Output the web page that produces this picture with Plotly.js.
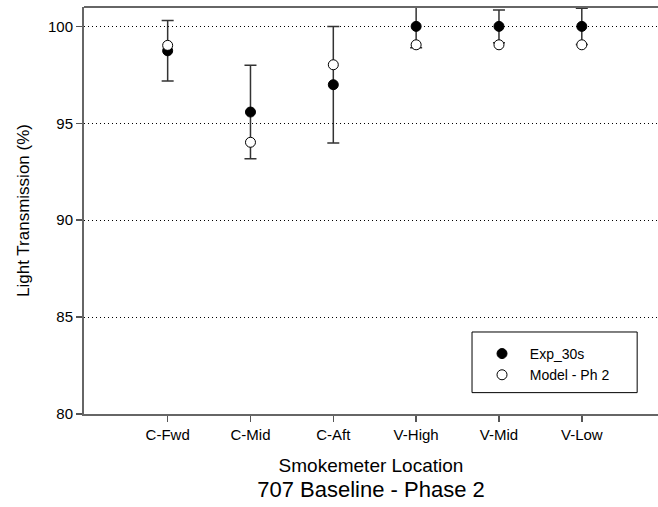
<!DOCTYPE html>
<html>
<head>
<meta charset="utf-8">
<script src="https://cdn.plot.ly/plotly-3.0.1.min.js"></script>
<style>html,body{margin:0;padding:0;background:#fff;}</style>
</head>
<body>
<div id="chart" style="width:658px;height:507px;"></div>
<script>
// Data
const locations = ["C-Fwd", "C-Mid", "C-Aft", "V-High", "V-Mid", "V-Low"];
const expValues = [98.74, 95.58, 96.99, 100.0, 100.0, 100.0];
const expErrors = [1.56, 2.41, 3.01, 1.1, 0.84, 0.94];
const modelValues = [99.02, 94.02, 98.02, 99.05, 99.05, 99.05];
const yTicks = [80, 85, 90, 95, 100];
const seriesNames = ["Exp_30s", "Model - Ph 2"];

const FONT = "Liberation Sans, Arial, sans-serif";
const PAD = "\u00a0\u00a0";

const traces = [
  {
    x: locations, y: expValues, name: PAD + seriesNames[0], type: "scatter", mode: "markers",
    marker: {color: "#000", size: 10, line: {color: "#000", width: 1}},
    error_y: {type: "data", array: expErrors, visible: true, color: "#333", thickness: 1.5, width: 6}
  },
  {
    x: locations, y: modelValues, name: PAD + seriesNames[1], type: "scatter", mode: "markers",
    marker: {color: "#fff", size: 10, line: {color: "#000", width: 1}}
  }
];

const layout = {
  width: 658, height: 507,
  margin: {l: 84, r: 0, t: 7, b: 93},
  paper_bgcolor: "#fff", plot_bgcolor: "#fff",
  font: {family: FONT, color: "#000"},
  showlegend: true,
  legend: {
    x: 0.6934, xanchor: "left", y: 0.1868, yanchor: "top",
    bgcolor: "rgba(0,0,0,0)", borderwidth: 0,
    font: {family: FONT, size: 14, color: "#000"}
  },
  title: {
    text: "707 Baseline - Phase 2",
    font: {family: FONT, size: 22, color: "#000"},
    xref: "paper", x: 0.5, xanchor: "center",
    yref: "container", y: 0.035, yanchor: "middle"
  },
  xaxis: {
    type: "category",
    range: [-1.01, 5.92],
    showgrid: false, zeroline: false,
    showline: true, linecolor: "#666", linewidth: 2,
    ticks: "outside", ticklen: 6, tickwidth: 1.5, tickcolor: "#555",
    tickfont: {family: FONT, size: 15, color: "#000"},
    title: {text: "Smokemeter Location", font: {family: FONT, size: 19, color: "#000"}, standoff: 17}
  },
  yaxis: {
    range: [80, 101],
    tickvals: yTicks, ticktext: yTicks.map(String),
    showgrid: true, gridcolor: "#000", griddash: "1px,3px", gridwidth: 1,
    zeroline: false,
    showline: true, linecolor: "#666", linewidth: 2,
    ticks: "outside", ticklen: 6, tickwidth: 1.5, tickcolor: "#555",
    tickfont: {family: FONT, size: 15, color: "#000"},
    title: {text: "Light Transmission (%)", font: {family: FONT, size: 17, color: "#000"}, standoff: 14}
  },
  shapes: [
    {type: "line", xref: "paper", yref: "paper", x0: 0, x1: 1, y0: 1, y1: 1,
     line: {color: "#666", width: 2}},
    {type: "rect", xref: "paper", yref: "paper", x0: 0.676, x1: 0.9637, y0: 0.0525, y1: 0.2015,
     line: {color: "#000", width: 1}, fillcolor: "rgba(0,0,0,0)"}
  ]
};

Plotly.newPlot("chart", traces, layout, {displayModeBar: false, staticPlot: true});
</script>
</body>
</html>
